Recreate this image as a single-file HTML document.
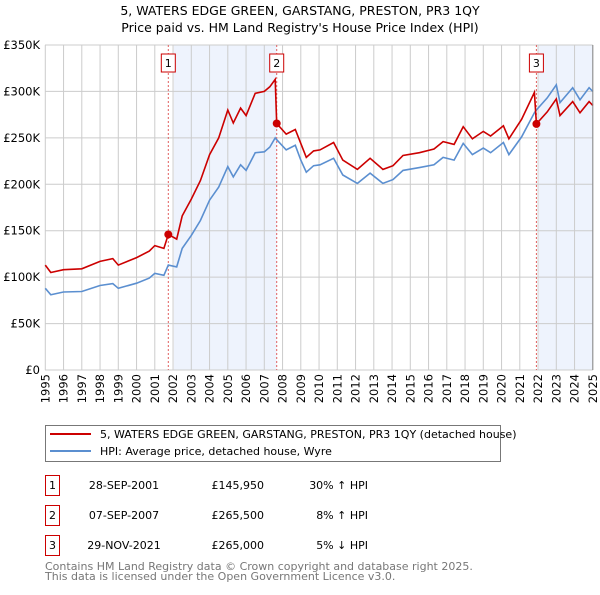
<!DOCTYPE html>
<html><head><meta charset="utf-8"><style>
body{margin:0;background:#fff;}
svg{font-family:"DejaVu Sans","Liberation Sans",sans-serif;}
</style></head><body>
<svg id="c" width="600" height="590" viewBox="0 0 600 590">
<text x="300" y="15" text-anchor="middle" font-size="12.5">5, WATERS EDGE GREEN, GARSTANG, PRESTON, PR3 1QY</text>
<text x="300" y="32" text-anchor="middle" font-size="12.5">Price paid vs. HM Land Registry's House Price Index (HPI)</text>
<g id="plot"></g>
<rect x="45.5" y="425.5" width="455" height="36" fill="#fff" stroke="#777"/>
<line x1="50" y1="434" x2="91" y2="434" stroke="#cc0000" stroke-width="2"/>
<text x="100" y="438" font-size="11">5, WATERS EDGE GREEN, GARSTANG, PRESTON, PR3 1QY (detached house)</text>
<line x1="50" y1="451" x2="91" y2="451" stroke="#5b8fd0" stroke-width="2"/>
<text x="100" y="455" font-size="11">HPI: Average price, detached house, Wyre</text>
<g font-size="11">
<rect x="45.5" y="475.5" width="14" height="20" fill="#fff" stroke="#cc0000"/><text x="52.5" y="489" text-anchor="middle">1</text>
<text x="124" y="489" text-anchor="middle">28-SEP-2001</text><text x="264" y="489" text-anchor="end">£145,950</text><text x="368" y="489" text-anchor="end">30% ↑ HPI</text>
<rect x="45.5" y="505.5" width="14" height="20" fill="#fff" stroke="#cc0000"/><text x="52.5" y="519" text-anchor="middle">2</text>
<text x="124" y="519" text-anchor="middle">07-SEP-2007</text><text x="264" y="519" text-anchor="end">£265,500</text><text x="368" y="519" text-anchor="end">8% ↑ HPI</text>
<rect x="45.5" y="535.5" width="14" height="20" fill="#fff" stroke="#cc0000"/><text x="52.5" y="549" text-anchor="middle">3</text>
<text x="124" y="549" text-anchor="middle">29-NOV-2021</text><text x="264" y="549" text-anchor="end">£265,000</text><text x="368" y="549" text-anchor="end">5% ↓ HPI</text>
</g>
<text x="45" y="570" font-size="11" fill="#777">Contains HM Land Registry data © Crown copyright and database right 2025.</text>
<text x="45" y="580" font-size="11" fill="#777">This data is licensed under the Open Government Licence v3.0.</text>
</svg>
<script>
const years=[1995.0,1995.3,1996.0,1997.0,1998.0,1998.7,1999.0,2000.0,2000.7,2001.0,2001.5,2001.74,2002.2,2002.5,2003.0,2003.5,2004.0,2004.5,2005.0,2005.3,2005.7,2006.0,2006.5,2007.0,2007.3,2007.6,2007.68,2008.2,2008.7,2009.0,2009.3,2009.7,2010.05,2010.8,2011.3,2012.1,2012.8,2013.5,2014.05,2014.6,2015.5,2016.3,2016.8,2017.4,2017.9,2018.4,2019.0,2019.4,2020.1,2020.4,2021.1,2021.8,2021.91,2022.5,2023.0,2023.2,2023.9,2024.3,2024.8,2025.0];
const hpiValues=[88,81,84,84.5,91,93,88,93.5,99,104,102,113,111,131,145,161,183,197,219,208,221,215,234,235,240,250,248,237,242,226,213,220,221,228,210,201,212,201,205,215,218,221,229,226,244,232,239,234,245,232,251,277,280,293,307,288,304,291,304,300];
const priceValues=[113,105,108,109,117,120,113,121,128,134,131,146,141,166,184,204,232,250,280,266,282,274,298,300,305,313,265.5,254,259,244,229,236,237,245,226,216,228,216,220,231,234,238,246,243,262,249,257,252,263,249,270,299,265,278,292,274,289,277,289,285];
const saleYears=[2001.74,2007.68,2021.91];
const salePrices=[145.95,265.5,265];
const saleLabels=["1","2","3"];
const yTicks=[0,50,100,150,200,250,300,350];
const yTickLabels=["£0","£50K","£100K","£150K","£200K","£250K","£300K","£350K"];
const xTicks=[1995,1996,1997,1998,1999,2000,2001,2002,2003,2004,2005,2006,2007,2008,2009,2010,2011,2012,2013,2014,2015,2016,2017,2018,2019,2020,2021,2022,2023,2024,2025];
const NS="http://www.w3.org/2000/svg";
const X=t=>45.3+(t-1995)*18.25;
const Y=v=>370-v*325/350;
const g=document.getElementById('plot');
function mk(tag,at){const e=document.createElementNS(NS,tag);for(const k in at)e.setAttribute(k,at[k]);g.appendChild(e);return e;}
let e;
e=mk('rect',{x:X(2002.05),y:45,width:X(saleYears[1])-X(2002.05),height:325,fill:'#eef3fd'});


e=mk('rect',{x:X(2022.05),y:45,width:X(2025)-X(2022.05),height:325,fill:'#eef3fd'});


yTicks.forEach((v,i)=>{
 e=mk('line',{x1:45,x2:X(2025),y1:Y(v),y2:Y(v),stroke:'#ccc','stroke-width':1});
 
 
 e=mk('text',{x:40,y:Y(v)+4,'text-anchor':'end','font-size':'11.5'});e.textContent=yTickLabels[i];
 
 
});
xTicks.forEach(t=>{
 e=mk('line',{x1:X(t),x2:X(t),y1:45,y2:370,stroke:'#ccc','stroke-width':1});
 
 
 e=mk('text',{x:0,y:0,'text-anchor':'end','font-size':'11.5',transform:`translate(${X(t)+4},374) rotate(-90)`});e.textContent=t;
 
 
});
saleYears.forEach((t,i)=>{
 e=mk('line',{x1:X(t),x2:X(t),y1:45,y2:370,stroke:'#e06060','stroke-width':1,'stroke-dasharray':'2,2'});
 
 
});
let hp=years.map((t,i)=>X(t).toFixed(1)+','+Y(hpiValues[i]).toFixed(1)).join(' ');
e=mk('polyline',{points:hp,fill:'none',stroke:'#5b8fd0','stroke-width':1.6});


let pp=years.map((t,i)=>X(t).toFixed(1)+','+Y(priceValues[i]).toFixed(1)).join(' ');
e=mk('polyline',{points:pp,fill:'none',stroke:'#cc0000','stroke-width':1.6});


saleYears.forEach((t,i)=>{
 e=mk('circle',{cx:X(t),cy:Y(salePrices[i]),r:4,fill:'#cc0000'});
 
 
 const bx=X(t)-7;
 e=mk('rect',{x:bx,y:54,width:14,height:18,fill:'#fff',stroke:'#cc0000'});
 
 
 e=mk('text',{x:X(t),y:67,'text-anchor':'middle','font-size':'11'});e.textContent=saleLabels[i];
 
 
});
e=mk('line',{x1:X(2025),x2:X(2025),y1:45,y2:370,stroke:'#888','stroke-width':1});


</script>
</body></html>
